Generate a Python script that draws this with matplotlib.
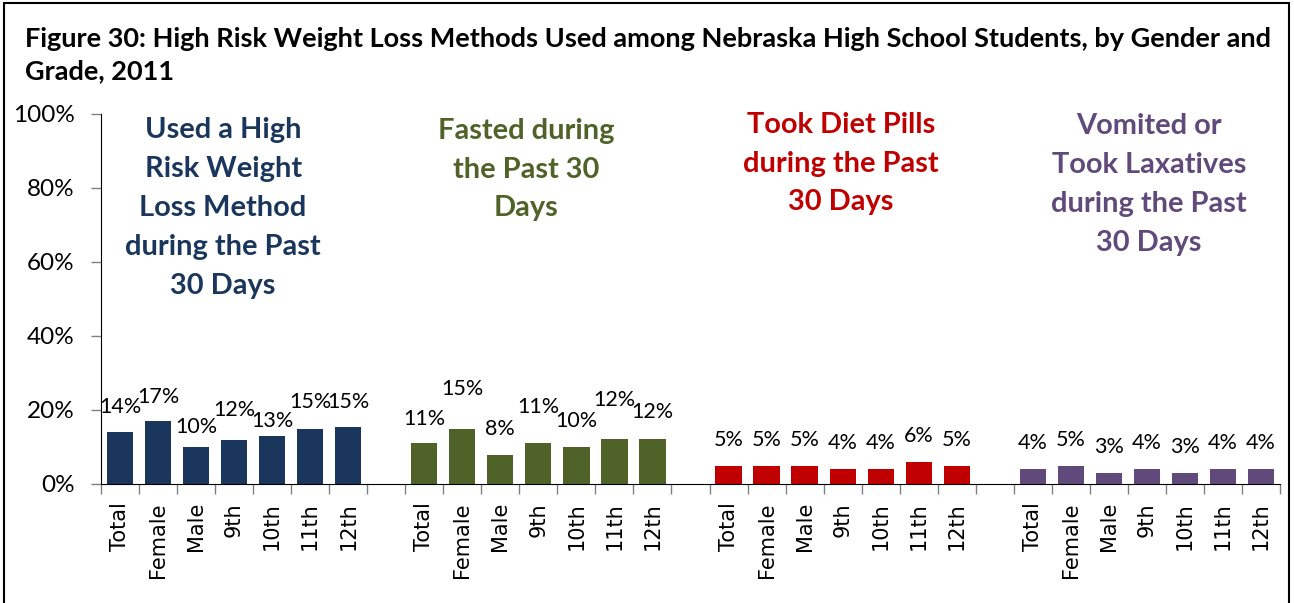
import matplotlib
matplotlib.use("Agg")
import matplotlib.pyplot as plt
from matplotlib.patches import Rectangle
import numpy as np

categories = ["Total", "Female", "Male", "9th", "10th", "11th", "12th"]
group_titles = [
    "Used a High\nRisk Weight\nLoss Method\nduring the Past\n30 Days",
    "Fasted during\nthe Past 30\nDays",
    "Took Diet Pills\nduring the Past\n30 Days",
    "Vomited or\nTook Laxatives\nduring the Past\n30 Days",
]
any_method = [14.1, 17.1, 10.1, 12.0, 13.1, 14.9, 15.4]
fasted = [11.1, 14.9, 7.9, 11.1, 10.0, 12.2, 12.2]
diet_pills = [4.9, 4.9, 4.9, 4.1, 4.1, 6.0, 4.9]
vomited = [4.1, 4.9, 3.1, 4.1, 3.1, 4.1, 4.1]
series = [any_method, fasted, diet_pills, vomited]
colors = ["#1B365D", "#4F6228", "#C00000", "#604A7B"]
# label nudges (extra offset above default, in % units) to mimic staggered labels
nudges = [
    [-0.2, -0.5, -1.6, 1.0, -3.2, 0.2, -0.2],
    [-0.4, 3.7, 0.0, 2.8, 0.0, 3.4, 0.2],
    [0, 0, 0, 0, 0, 0, 0],
    [0, 0, 0, 0, 0, 0, 0],
]

fig = plt.figure(figsize=(12.94, 6.03), dpi=100)
fig.patches.append(Rectangle((4 / 1294, -0.05), 1285 / 1294, 1.05 - 3 / 603,
                             transform=fig.transFigure, fill=False,
                             edgecolor="black", linewidth=1.5))
ax = fig.add_axes([101 / 1294, 1 - 484 / 603, 1179 / 1294, 370 / 603])

calib = ["Lato", "DejaVu Sans"]
ticks = []
ticklabels = []
for g, vals in enumerate(series):
    xs = np.arange(len(vals)) + g * 8
    ax.bar(xs, vals, width=0.69, color=colors[g])
    for x, v, n in zip(xs, vals, nudges[g]):
        ax.text(x, v + 7.0 + n, f"{round(v):d}%", ha="center", va="center",
                fontsize=15.5, family=calib, color="black")
    ticks.extend(xs)
    ticklabels.extend(categories)

title_x = [2.71, 10.68, 18.95, 27.05]
title_y = [74.6, 85.0, 86.6, 81.0]
for g, t in enumerate(group_titles):
    ax.text(title_x[g], title_y[g], t, ha="center", va="center", fontsize=20.9,
            fontweight="bold", family=calib, color=colors[g], linespacing=1.61)

ax.set_xlim(-0.5, 30.5)
ax.set_ylim(0, 100)
ax.set_yticks(np.arange(0, 101, 20))
ax.set_yticklabels([f"{v}%" for v in range(0, 101, 20)], fontsize=17.5, family=calib)
ax.set_xticks(ticks)
ax.set_xticklabels(ticklabels, rotation=90, fontsize=15, family="DejaVu Sans")
ax.set_xticks(np.arange(-0.5, 31, 1), minor=True)
ax.tick_params(axis="x", which="major", length=0, pad=13)
ax.tick_params(axis="x", which="minor", length=7, width=1, color="#808080")
ax.tick_params(axis="y", length=7, width=1, color="#808080", pad=12)
for s in ["top", "right"]:
    ax.spines[s].set_visible(False)
ax.spines["left"].set_color("black")
ax.spines["bottom"].set_color("black")

fig.text(25 / 1294, 1 - 55 / 603,
         "Figure 30: High Risk Weight Loss Methods Used among Nebraska High School Students, by Gender and\nGrade, 2011",
         ha="left", va="center", fontsize=19.5, fontweight="bold", family=calib,
         linespacing=1.4)

fig.savefig("out.png", dpi=100)
